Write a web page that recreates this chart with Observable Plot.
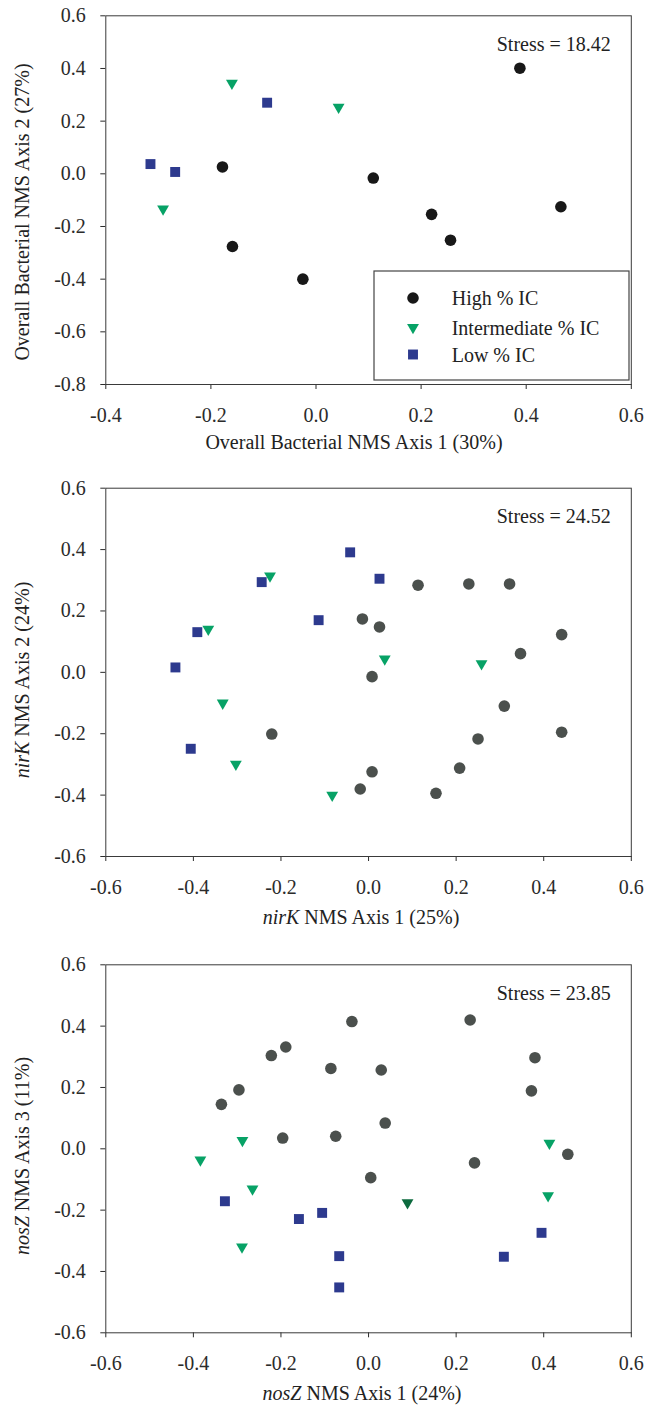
<!DOCTYPE html>
<html><head><meta charset="utf-8">
<script src="https://cdn.jsdelivr.net/npm/d3@7"></script>
<script src="https://cdn.jsdelivr.net/npm/@observablehq/plot@0.6"></script>
<style>
body{margin:0;background:#fff;}
#root{position:relative;width:648px;height:1406px;background:#fff;}
#root svg{position:absolute;left:0;}
#root svg text{font-family:'Liberation Serif','Times New Roman',serif;font-size:20px;}
</style></head><body><div id="root"></div>
<script>
// ---------- data ----------
const groups = ["High % IC", "Intermediate % IC", "Low % IC"];
const stressLabels = ["Stress = 18.42", "Stress = 24.52", "Stress = 23.85"];

const ticksX1 = [-0.4, -0.2, 0, 0.2, 0.4, 0.6];
const ticksY1 = [-0.8, -0.6, -0.4, -0.2, 0, 0.2, 0.4, 0.6];
const ticks23 = [-0.6, -0.4, -0.2, 0, 0.2, 0.4, 0.6];

// Panel 1: overall bacterial
const highX1 = [0.388, -0.178, 0.109, 0.220, 0.466, 0.256, -0.159, -0.025];
const highY1 = [0.401, 0.026, -0.016, -0.154, -0.125, -0.252, -0.276, -0.400];
const intX1 = [-0.160, 0.043, -0.291];
const intY1 = [0.344, 0.253, -0.133];
const lowX1 = [-0.093, -0.315, -0.268];
const lowY1 = [0.270, 0.037, 0.007];

// Panel 2: nirK
const highX2 = [0.113, 0.229, 0.322, -0.014, 0.025, 0.441, 0.347, 0.008, 0.310, -0.221, 0.441, 0.250, 0.208, 0.008, -0.019, 0.154];
const highY2 = [0.284, 0.288, 0.288, 0.174, 0.148, 0.123, 0.061, -0.014, -0.110, -0.201, -0.195, -0.217, -0.312, -0.324, -0.380, -0.394];
const intX2 = [-0.225, -0.366, 0.037, 0.258, -0.333, -0.303, -0.083];
const intY2 = [0.314, 0.141, 0.044, 0.028, -0.100, -0.299, -0.400];
const lowX2 = [-0.042, 0.025, -0.244, -0.114, -0.391, -0.441, -0.406];
const lowY2 = [0.391, 0.305, 0.294, 0.170, 0.131, 0.016, -0.249];

// Panel 3: nosZ
const highX3 = [-0.038, 0.232, -0.189, -0.222, 0.380, -0.086, 0.029, -0.296, 0.372, -0.336, 0.038, -0.196, -0.075, 0.455, 0.242, 0.005];
const highY3 = [0.415, 0.420, 0.332, 0.304, 0.297, 0.262, 0.257, 0.192, 0.189, 0.145, 0.084, 0.035, 0.041, -0.018, -0.046, -0.094];
const intX3 = [-0.288, 0.413, -0.384, -0.265, 0.410, -0.289];
const intY3 = [0.027, 0.018, -0.036, -0.131, -0.153, -0.320];
const intDarkX3 = [0.089];
const intDarkY3 = [-0.176];
const lowX3 = [-0.328, -0.159, -0.106, 0.395, -0.067, 0.309, -0.067];
const lowY3 = [-0.171, -0.229, -0.209, -0.274, -0.350, -0.352, -0.452];

// ---------- styling ----------
const FONT = "'Liberation Serif', 'Times New Roman', serif";
const GREEN = "#07a266", DARKGREEN = "#0c6a3e", BLUE = "#2d3a8e";
const R_CIRCLE = 5.8, R_SQUARE = 5.6, R_TRI = 4.4;
const triDown = {
  draw(ctx, size) {
    const y = Math.sqrt(size / (3 * Math.sqrt(3)));
    ctx.moveTo(0, 2 * y);
    ctx.lineTo(-Math.sqrt(3) * y, -y);
    ctx.lineTo(Math.sqrt(3) * y, -y);
    ctx.closePath();
  }
};
const fmt = d => (Math.abs(d) < 1e-9 ? 0 : d).toFixed(1);
const pts = (xs, ys) => xs.map((x, i) => ({x, y: ys[i]}));

const panels = [
  {top: 0, height: 470, mt: 15.3, mb: 86, xd: [-0.4, 0.6], yd: [-0.8, 0.6], xt: ticksX1, yt: ticksY1,
   high: pts(highX1, highY1), highColor: "#181818", inter: pts(intX1, intY1), interDark: [], low: pts(lowX1, lowY1),
   stress: stressLabels[0],
   xTitle: [["Overall Bacterial NMS Axis 1 (30%)", false]], xTitleX: 354, xTitleY: 449,
   yTitle: [["Overall Bacterial NMS Axis 2 (27%)", false]], yTitleY: 212, legend: true},
  {top: 470, height: 470, mt: 17.7, mb: 84, xd: [-0.6, 0.6], yd: [-0.6, 0.6], xt: ticks23, yt: ticks23,
   high: pts(highX2, highY2), highColor: "#4b504d", inter: pts(intX2, intY2), interDark: [], low: pts(lowX2, lowY2),
   stress: stressLabels[1],
   xTitle: [["nirK", true], [" NMS Axis 1 (25%)", false]], xTitleX: 361, xTitleY: 454,
   yTitle: [["nirK", true], [" NMS Axis 2 (24%)", false]], yTitleY: 210, legend: false},
  {top: 940, height: 466, mt: 24.3, mb: 73.7, xd: [-0.6, 0.6], yd: [-0.6, 0.6], xt: ticks23, yt: ticks23,
   high: pts(highX3, highY3), highColor: "#4b504d", inter: pts(intX3, intY3), interDark: pts(intDarkX3, intDarkY3), low: pts(lowX3, lowY3),
   stress: stressLabels[2],
   xTitle: [["nosZ", true], [" NMS Axis 1 (24%)", false]], xTitleX: 362, xTitleY: 460,
   yTitle: [["nosZ", true], [" NMS Axis 3 (11%)", false]], yTitleY: 216, legend: false}
];

const root = document.getElementById("root");

for (const p of panels) {
  const svg = Plot.plot({
    width: 648, height: p.height,
    marginTop: p.mt, marginBottom: p.mb, marginLeft: 105.3, marginRight: 17.2,
    style: {fontFamily: FONT, fontSize: "20px", color: "#2b2b2b", background: "transparent"},
    x: {domain: p.xd, ticks: p.xt, tickFormat: fmt, tickSize: 5, tickPadding: 18, label: null},
    y: {domain: p.yd, ticks: p.yt, tickFormat: fmt, tickSize: 5, tickPadding: 15, label: null},
    marks: [
      Plot.frame({stroke: "#3a3a3a", strokeWidth: 1}),
      Plot.dot(p.high, {x: "x", y: "y", r: R_CIRCLE, symbol: "circle", fill: p.highColor}),
      Plot.dot(p.inter, {x: "x", y: "y", r: R_TRI, symbol: triDown, fill: GREEN}),
      Plot.dot(p.interDark, {x: "x", y: "y", r: R_TRI, symbol: triDown, fill: DARKGREEN}),
      Plot.dot(p.low, {x: "x", y: "y", r: R_SQUARE, symbol: "square", fill: BLUE}),
      Plot.text([p.stress], {frameAnchor: "top-right", text: d => d, dx: -20.5, dy: 20.8,
        textAnchor: "end", lineAnchor: "top", fontSize: 20, fill: "#222"})
    ]
  });
  svg.style.top = p.top + "px";
  root.appendChild(svg);

  const s = d3.select(svg);
  const g = s.append("g").attr("font-family", FONT).attr("font-size", 20).attr("fill", "#222");
  // x title
  const xt = g.append("text").attr("x", p.xTitleX).attr("y", p.xTitleY).attr("text-anchor", "middle");
  for (const [t, it] of p.xTitle) xt.append("tspan").attr("font-style", it ? "italic" : null).text(t);
  // y title
  const yt = g.append("text").attr("transform", `translate(29,${p.yTitleY}) rotate(-90)`).attr("text-anchor", "middle");
  for (const [t, it] of p.yTitle) yt.append("tspan").attr("font-style", it ? "italic" : null).text(t);

  if (p.legend) {
    const lg = g.append("g").attr("text-anchor", "start");
    lg.append("rect").attr("x", 374).attr("y", 271).attr("width", 255).attr("height", 109)
      .attr("fill", "#fff").attr("stroke", "#444").attr("stroke-width", 1.2);
    const syms = [
      {type: d3.symbolCircle, r: R_CIRCLE, fill: p.highColor},
      {type: triDown, r: R_TRI, fill: GREEN},
      {type: d3.symbolSquare, r: R_SQUARE, fill: BLUE}
    ];
    const rowY = [298, 327.5, 354.5];
    groups.forEach((name, i) => {
      lg.append("path")
        .attr("d", d3.symbol().type(syms[i].type).size(Math.PI * syms[i].r * syms[i].r)())
        .attr("transform", `translate(413,${rowY[i]})`).attr("fill", syms[i].fill);
      lg.append("text").attr("x", 451.7).attr("y", rowY[i] + 7).attr("text-anchor", "start").text(name);
    });
  }
}
</script></body></html>
